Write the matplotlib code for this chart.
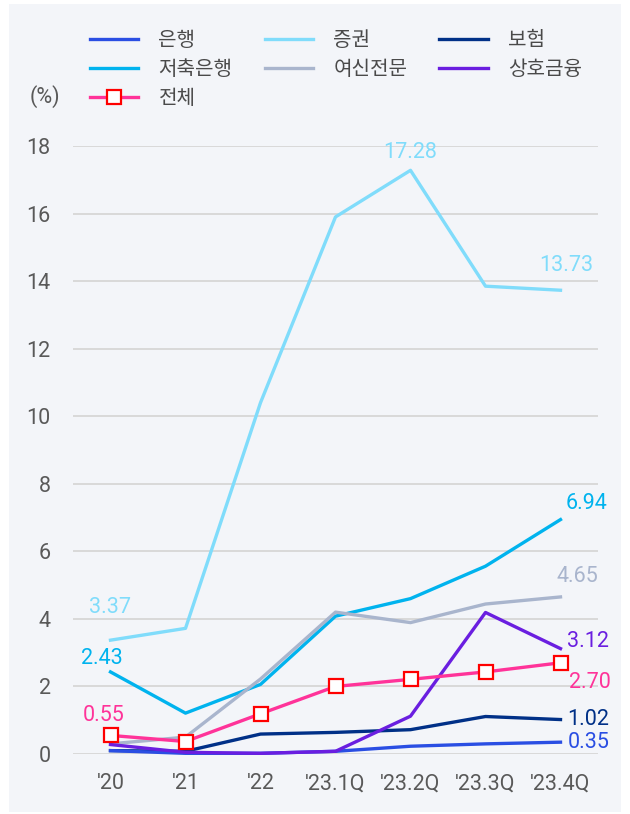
import matplotlib.pyplot as plt
from matplotlib.patches import Rectangle
import numpy as np

plt.rcParams['font.family'] = ['Roboto', 'Noto Sans CJK KR', 'DejaVu Sans']

# 데이터
categories = ["'20", "'21", "'22", "'23.1Q", "'23.2Q", "'23.3Q", "'23.4Q"]

bank = [0.10, 0.02, 0.02, 0.08, 0.23, 0.30, 0.35]          # 은행
securities = [3.37, 3.72, 10.40, 15.90, 17.28, 13.85, 13.73]  # 증권
insurance = [0.10, 0.08, 0.59, 0.64, 0.72, 1.11, 1.02]     # 보험
savings = [2.43, 1.21, 2.06, 4.08, 4.60, 5.56, 6.94]       # 저축은행
credit = [0.30, 0.50, 2.22, 4.20, 3.89, 4.44, 4.65]        # 여신전문
mutual = [0.28, 0.05, 0.02, 0.08, 1.12, 4.19, 3.12]        # 상호금융
total = [0.55, 0.37, 1.19, 2.00, 2.21, 2.43, 2.70]         # 전체

c_bank = '#2a4ee3'
c_sec = '#80dcfb'
c_ins = '#003087'
c_sav = '#00b3ee'
c_cre = '#a9b5cd'
c_mut = '#6a1ee0'
c_tot = '#ff3399'

x = np.arange(len(categories))
lw = 2.4

fig = plt.figure(figsize=(6.3, 8.14), dpi=100)
fig.patch.set_facecolor('white')
fig.patches.append(Rectangle((9 / 630, 2 / 814), 612 / 630, 808 / 814,
                             transform=fig.transFigure, facecolor='#f3f5f9',
                             edgecolor='none', zorder=-10))

ax = fig.add_axes([73 / 630, 60 / 814, 525 / 630, 608 / 814])
ax.set_facecolor('none')

l_sec, = ax.plot(x, securities, color=c_sec, lw=lw, zorder=3, clip_on=False)
l_sav, = ax.plot(x, savings, color=c_sav, lw=lw, zorder=3, clip_on=False)
l_cre, = ax.plot(x, credit, color=c_cre, lw=lw, zorder=3, clip_on=False)
l_ins, = ax.plot(x, insurance, color=c_ins, lw=lw, zorder=3, clip_on=False)
l_bank, = ax.plot(x, bank, color=c_bank, lw=lw, zorder=3, clip_on=False)
l_mut, = ax.plot(x, mutual, color=c_mut, lw=lw, zorder=3, clip_on=False)
l_tot, = ax.plot(x, total, color=c_tot, lw=lw, zorder=4, clip_on=False,
                 marker='s', markersize=10, markerfacecolor='white',
                 markeredgecolor='#ff0000', markeredgewidth=1.6)

ax.set_xlim(-0.5, 6.5)
ax.set_ylim(0, 18)
ax.set_yticks(np.arange(0, 19, 2))
ax.set_xticks(x)
ax.set_xticklabels(categories)
ax.tick_params(length=0, labelsize=15.5, labelcolor='#595959')
ax.tick_params(axis='x', pad=14)
ax.tick_params(axis='y', pad=16)
ax.grid(axis='y', color='#d9d9d9', lw=1.4)
ax.set_axisbelow(True)
for s in ax.spines.values():
    s.set_visible(False)

# 값 라벨
fs = 15.5
ax.annotate(f'{securities[0]:.2f}', (x[0], securities[0]), xytext=(0, 16),
            textcoords='offset points', ha='center', va='bottom', color=c_sec, fontsize=fs)
ax.annotate(f'{securities[4]:.2f}', (x[4], securities[4]), xytext=(0, 5),
            textcoords='offset points', ha='center', va='bottom', color=c_sec, fontsize=fs)
ax.annotate(f'{securities[6]:.2f}', (x[6], securities[6]), xytext=(4, 10),
            textcoords='offset points', ha='center', va='bottom', color=c_sec, fontsize=fs)
ax.annotate(f'{savings[0]:.2f}', (x[0], savings[0]), xytext=(-6, 2),
            textcoords='offset points', ha='center', va='bottom', color=c_sav, fontsize=fs)
ax.annotate(f'{savings[6]:.2f}', (x[6], savings[6]), xytext=(4, 4),
            textcoords='offset points', ha='left', va='bottom', color=c_sav, fontsize=fs)
ax.annotate(f'{credit[6]:.2f}', (x[6], credit[6]), xytext=(12, 7),
            textcoords='offset points', ha='center', va='bottom', color=c_cre, fontsize=fs)
ax.annotate(f'{mutual[6]:.2f}', (x[6], mutual[6]), xytext=(5, 5),
            textcoords='offset points', ha='left', va='center', color=c_mut, fontsize=fs)
ax.annotate(f'{total[0]:.2f}', (x[0], total[0]), xytext=(-5, 7),
            textcoords='offset points', ha='center', va='bottom', color=c_tot, fontsize=fs)
ax.annotate(f'{total[6]:.2f}', (x[6], total[6]), xytext=(6, -14),
            textcoords='offset points', ha='left', va='center', color=c_tot, fontsize=fs)
ax.annotate(f'{insurance[6]:.2f}', (x[6], insurance[6]), xytext=(5, 0),
            textcoords='offset points', ha='left', va='center', color=c_ins, fontsize=fs)
ax.annotate(f'{bank[6]:.2f}', (x[6], bank[6]), xytext=(5, 0),
            textcoords='offset points', ha='left', va='center', color=c_bank, fontsize=fs)

fig.text(45 / 630, 1 - 97 / 814, '(%)', ha='center', va='center', fontsize=15.5, color='#595959')

handles = [l_bank, l_sav, l_tot, l_sec, l_cre, l_ins, l_mut]
labels = ['은행', '저축은행', '전체', '증권', '여신전문', '보험', '상호금융']
fig.legend(handles, labels, ncol=3, loc='upper left', bbox_to_anchor=(90 / 630, 1 - 31 / 814),
           frameon=False, fontsize=14.5, labelcolor='#4a4a4a', handlelength=2.4,
           handletextpad=1.0, columnspacing=1.6, labelspacing=0.5, borderaxespad=0,
           borderpad=0)

fig.savefig('out.png', dpi=100)
